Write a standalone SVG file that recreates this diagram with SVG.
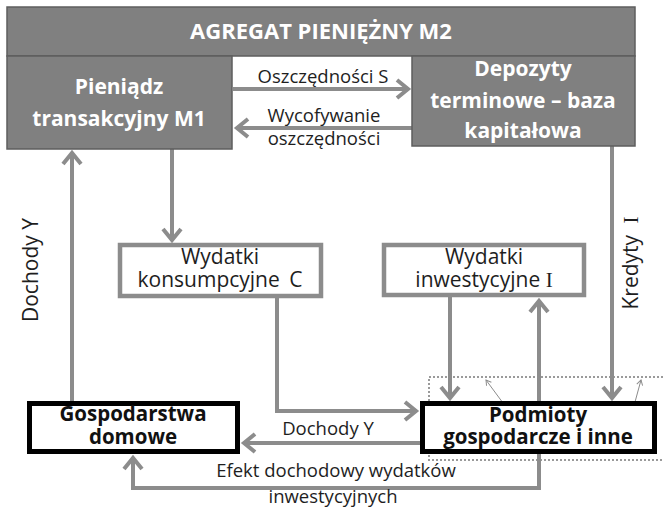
<svg xmlns="http://www.w3.org/2000/svg" width="663" height="510" viewBox="0 0 663 510">
<style>
.gbox{fill:#808080;stroke:#5e5e5e;stroke-width:1.5}
.wbox{fill:#fff;stroke:#8c8c8c;stroke-width:4.5}
.bbox{fill:#fff;stroke:#000;stroke-width:5}
.hw{font-family:"Open Sans","DejaVu Sans",sans-serif;font-weight:700;fill:#fff;text-anchor:middle}
.hb{font-family:"Open Sans","DejaVu Sans",sans-serif;font-weight:700;fill:#111;text-anchor:middle;font-size:20.5px}
.lb{font-family:"Open Sans","DejaVu Sans",sans-serif;fill:#1e1e1e;text-anchor:middle;font-size:18.5px}
.bx{font-family:"Open Sans","DejaVu Sans",sans-serif;fill:#1e1e1e;text-anchor:middle;font-size:21px}
.ser{font-family:"Liberation Serif","DejaVu Serif",serif}
.conn{fill:none;stroke:#8c8c8c;stroke-width:4;marker-end:url(#ah)}
.thin{fill:none;stroke:#8c8c8c;stroke-width:1;marker-end:url(#ahs)}
.dot{fill:none;stroke:#9a9a9a;stroke-width:2;stroke-dasharray:2 2}
</style>
<defs>
<marker id="ah" viewBox="-16 -12 20 24" refX="0" refY="0" markerWidth="20" markerHeight="24" markerUnits="userSpaceOnUse" orient="auto">
<path d="M-11,-9 L0,0 L-11,9" fill="none" stroke="#8c8c8c" stroke-width="4"/>
</marker>
<marker id="ahs" viewBox="-8 -5 10 10" refX="0" refY="0" markerWidth="10" markerHeight="10" markerUnits="userSpaceOnUse" orient="auto">
<path d="M-5,-3 L0,0 L-5,3" fill="none" stroke="#8c8c8c" stroke-width="1"/>
</marker>
</defs>
<rect width="663" height="510" fill="#fff"/>

<g id="dotted-frame">
<rect class="dot" x="429" y="377" width="245" height="83"/>
</g>

<g id="connectors">
<path class="conn" d="M233,89 H408"/>
<path class="conn" d="M412,128 H237"/>
<path class="conn" d="M72,401 V153"/>
<path class="conn" d="M172,149 V240"/>
<path class="conn" d="M277,297 V411 H416"/>
<path class="conn" d="M450,297 V398"/>
<path class="conn" d="M539,402 V301"/>
<path class="conn" d="M612,146 V398"/>
<path class="conn" d="M420,443 H244"/>
<path class="conn" d="M539,454 V488 H133 V458"/>
<path class="thin" d="M503,403 L486,380"/>
<path class="thin" d="M635,402 L641,380"/>
</g>

<g id="agregat">
<rect class="gbox" x="7" y="7" width="628" height="49"/>
<text class="hw" x="321" y="39" font-size="22">AGREGAT PIENIĘŻNY M2</text>
</g>

<g id="m1">
<rect class="gbox" x="7" y="56" width="225" height="93"/>
<text class="hw" x="119" y="94" font-size="21">Pieniądz</text>
<text class="hw" x="119" y="126" font-size="21">transakcyjny M1</text>
</g>

<g id="depozyty">
<rect class="gbox" x="412" y="56" width="223" height="90"/>
<text class="hw" x="523" y="76" font-size="21">Depozyty</text>
<text class="hw" x="523" y="108" font-size="21">terminowe – baza</text>
<text class="hw" x="523" y="138" font-size="21">kapitałowa</text>
</g>

<g id="labels-top">
<text class="lb" x="323" y="83">Oszczędności S</text>
<text class="lb" x="324" y="122">Wycofywanie</text>
<text class="lb" x="324" y="145">oszczędności</text>
</g>

<g id="wydatki-c">
<rect class="wbox" x="120" y="245" width="201" height="51"/>
<text class="bx" x="220" y="264">Wydatki</text>
<text class="bx" x="220" y="287">konsumpcyjne <tspan dx="4">C</tspan></text>
</g>

<g id="wydatki-i">
<rect class="wbox" x="384" y="245" width="200" height="50"/>
<text class="bx" x="484" y="264">Wydatki</text>
<text class="bx" x="484" y="287">inwestycyjne <tspan class="ser">I</tspan></text>
</g>

<g id="label-dochody-left">
<text class="bx" font-size="22" transform="translate(38,270) rotate(-90)">Dochody Y</text>
</g>

<g id="label-kredyty">
<text class="bx" font-size="22" transform="translate(638,263) rotate(-90)">Kredyty <tspan class="ser" dx="6">I</tspan></text>
</g>

<g id="gospodarstwa">
<rect class="bbox" x="29.5" y="403.5" width="208" height="48"/>
<text class="hb" x="133" y="421" font-size="22">Gospodarstwa</text>
<text class="hb" x="133" y="444" font-size="22">domowe</text>
</g>

<g id="podmioty">
<rect class="bbox" x="422.5" y="403.5" width="232" height="48"/>
<text class="hb" x="538" y="422">Podmioty</text>
<text class="hb" x="538" y="444">gospodarcze i inne</text>
</g>

<g id="labels-bottom">
<text class="lb" x="328" y="435" font-size="17.5">Dochody Y</text>
<text class="lb" x="336" y="477">Efekt dochodowy wydatków</text>
<text class="lb" x="333" y="503">inwestycyjnych</text>
</g>
</svg>
